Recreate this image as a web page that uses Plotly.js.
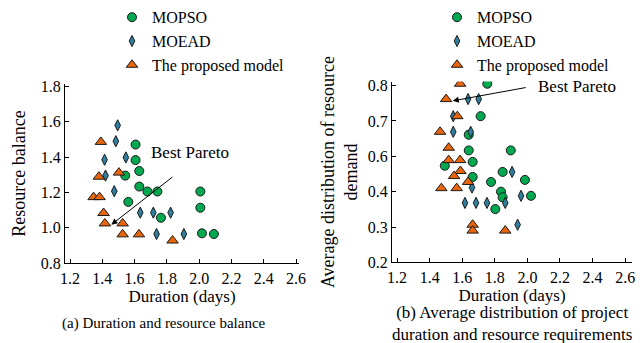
<!DOCTYPE html>
<html>
<head>
<meta charset="utf-8">
<script src="https://cdn.plot.ly/plotly-3.0.1.min.js"></script>
<style>html,body{margin:0;padding:0;background:#fff;}#chart{width:643px;height:343px;}</style>
</head>
<body>
<div id="chart"></div>
<script>
// ---- (a) Duration vs resource balance ----
const aMopsoX = [1.606,1.606,1.629,1.542,1.629,1.679,1.741,1.561,1.763,2.007,2.007,2.017,2.091];
const aMopsoY = [1.471,1.383,1.321,1.295,1.233,1.205,1.205,1.146,1.056,1.205,1.113,0.968,0.964];
const aMoeadX = [1.495,1.484,1.414,1.546,1.420,1.474,1.635,1.716,1.823,1.736,1.905];
const aMoeadY = [1.580,1.490,1.385,1.398,1.295,1.207,1.085,1.085,1.085,0.964,0.964];
const aPropX  = [1.391,1.379,1.503,1.346,1.383,1.408,1.416,1.526,1.526,1.627,1.835];
const aPropY  = [1.486,1.289,1.312,1.173,1.173,1.083,1.024,1.024,0.962,0.962,0.927];

// ---- (b) Duration vs average distribution of resource demand ----
// y values are in the axis' own evenly spaced scale (tick labels below)
const bMopsoX = [1.754,1.713,1.640,1.640,1.898,1.664,1.493,1.848,1.664,1.777,1.985,1.838,1.848,2.022,1.803];
const bMopsoY = [0.806,0.696,0.633,0.580,0.580,0.541,0.528,0.507,0.490,0.473,0.480,0.440,0.421,0.426,0.381];
const bMoeadX = [1.636,1.701,1.545,1.545,1.652,1.906,1.660,1.961,1.617,1.685,1.752,1.864,1.940];
const bMoeadY = [0.754,0.754,0.696,0.643,0.643,0.507,0.454,0.426,0.402,0.402,0.402,0.402,0.328];
const bPropX  = [1.587,1.501,1.570,1.464,1.517,1.517,1.587,1.589,1.550,1.636,1.472,1.566,1.664,1.664,1.864];
const bPropY  = [0.806,0.754,0.696,0.643,0.589,0.547,0.547,0.510,0.493,0.473,0.452,0.452,0.328,0.308,0.308];

const xTickVals = [1.2,1.4,1.6,1.8,2.0,2.2,2.4,2.6];
const xTickText = ['1.2','1.4','1.6','1.8','2.0','2.2','2.4','2.6'];
const aYTickVals = [0.8,1.0,1.2,1.4,1.6,1.8];
const aYTickText = ['0.8','1.0','1.2','1.4','1.6','1.8'];
const bYTickVals = [0.2,0.32,0.44,0.56,0.68,0.8];
const bYTickText = ['0.2','0.3','0.4','0.6','0.7','0.8'];

const seriesNames = ['MOPSO','MOEAD','The proposed model'];

const FONT = "'Liberation Serif', 'Times New Roman', serif";
const GREEN = '#00a850', BLUE = '#2e7f9e', ORANGE = '#e8650c', EDGE = '#1a1a1a';

function mk(name, x, y, xa, ya, symbol, color, size, legend) {
  return {type:'scatter', mode:'markers', name:name, x:x, y:y, xaxis:xa, yaxis:ya,
    legend:legend,
    marker:{symbol:symbol, color:color, size:size, line:{color:EDGE, width:1}}};
}

const data = [
  mk(seriesNames[0], aMopsoX, aMopsoY, 'x', 'y', 'circle', GREEN, 9, 'legend'),
  mk(seriesNames[1], aMoeadX, aMoeadY, 'x', 'y', 'diamond-tall', BLUE, 8, 'legend'),
  mk(seriesNames[2], aPropX, aPropY, 'x', 'y', 'triangle-up', ORANGE, 10, 'legend'),
  mk(seriesNames[0], bMopsoX, bMopsoY, 'x2', 'y2', 'circle', GREEN, 9, 'legend2'),
  mk(seriesNames[1], bMoeadX, bMoeadY, 'x2', 'y2', 'diamond-tall', BLUE, 8, 'legend2'),
  mk(seriesNames[2], bPropX, bPropY, 'x2', 'y2', 'triangle-up', ORANGE, 10, 'legend2')
];

const axCommon = {showgrid:false, zeroline:false, showline:true, linecolor:'#000', linewidth:1,
  ticks:'inside', ticklen:4, tickcolor:'#000', tickfont:{family:FONT, size:16, color:'#000'},
  tickmode:'array'};

const legendCommon = {xanchor:'left', yanchor:'top', bgcolor:'rgba(0,0,0,0)', borderwidth:0,
  font:{family:FONT, size:16, color:'#000'}, itemwidth:30, tracegroupgap:0};

const layout = {
  width:643, height:343, margin:{l:0,r:0,t:0,b:0},
  paper_bgcolor:'#fff', plot_bgcolor:'#fff',
  font:{family:FONT, color:'#000', size:16},
  showlegend:true,
  legend:Object.assign({}, legendCommon, {x:112/643, y:1.005}),
  legend2:Object.assign({}, legendCommon, {x:437/643, y:1.005}),
  xaxis:Object.assign({}, axCommon, {domain:[65/643, 299/643], range:[1.169, 2.618],
    tickvals:xTickVals, ticktext:xTickText, anchor:'y',
    title:{text:'Duration (days)', font:{family:FONT, size:17}, standoff:3}}),
  yaxis:Object.assign({}, axCommon, {domain:[(343-263)/343, (343-82)/343], range:[0.797, 1.817],
    tickvals:aYTickVals, ticktext:aYTickText, anchor:'x',
    title:{text:'Resource balance', font:{family:FONT, size:18}, standoff:10}}),
  xaxis2:Object.assign({}, axCommon, {domain:[392/643, 632/643], range:[1.169, 2.642],
    tickvals:xTickVals, ticktext:xTickText, anchor:'y2',
    title:{text:'Duration (days)', font:{family:FONT, size:17}, standoff:3}}),
  yaxis2:Object.assign({}, axCommon, {domain:[(343-262)/343, (343-80)/343], range:[0.2, 0.8135],
    tickvals:bYTickVals, ticktext:bYTickText, anchor:'x2',
    title:{text:'Average distribution of resource<br>demand', font:{family:FONT, size:18}, standoff:5}}),
  annotations:[
    {xref:'x', yref:'y', x:1.456, y:1.017, ax:1.843, ay:1.293, axref:'x', ayref:'y',
      showarrow:true, arrowhead:2, arrowsize:1.2, arrowwidth:1, arrowcolor:'#000', text:''},
    {xref:'x', yref:'y', x:1.941, y:1.424, text:'Best Pareto', showarrow:false,
      xanchor:'center', yanchor:'middle', font:{family:FONT, size:17, color:'#000'}},
    {xref:'x2', yref:'y2', x:1.542, y:0.748, ax:1.999, ay:0.794, axref:'x2', ayref:'y2',
      showarrow:true, arrowhead:2, arrowsize:1.2, arrowwidth:1, arrowcolor:'#000', text:''},
    {xref:'x2', yref:'y2', x:2.304, y:0.797, text:'Best Pareto', showarrow:false,
      xanchor:'center', yanchor:'middle', font:{family:FONT, size:17, color:'#000'}},
    {xref:'paper', yref:'paper', x:164/643, y:1-323/343, xanchor:'center', yanchor:'middle',
      text:'(a) Duration and resource balance',
      showarrow:false, font:{family:FONT, size:15, color:'#000'}},
    {xref:'paper', yref:'paper', x:512/643, y:1-323/343, xanchor:'center', yanchor:'middle',
      text:'(b) Average distribution of project<br>duration and resource requirements',
      showarrow:false, font:{family:FONT, size:17, color:'#000'}}
  ]
};

Plotly.newPlot('chart', data, layout, {staticPlot:true, displayModeBar:false});
</script>
</body>
</html>
